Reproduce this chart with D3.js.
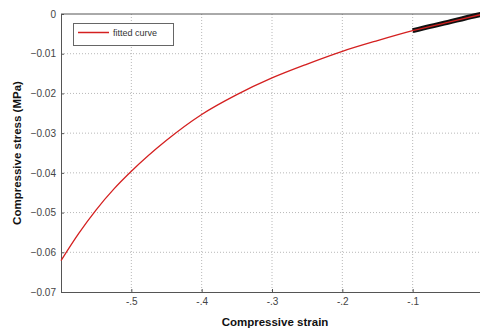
<!DOCTYPE html>
<html><head><meta charset="utf-8">
<script src="https://cdn.jsdelivr.net/npm/d3@7"></script>
<style>body{margin:0;background:#fff}svg{display:block}</style>
</head><body>
<svg id="c" width="480" height="332"></svg>
<script>
const strainFit = [-0.60,-0.575,-0.55,-0.525,-0.50,-0.45,-0.40,-0.35,-0.30,-0.25,-0.20,-0.15,-0.10,-0.05,0.00];
const stressFit = [-0.0621,-0.0553,-0.0493,-0.0441,-0.0396,-0.0318,-0.0253,-0.0203,-0.0161,-0.0126,-0.0094,-0.0067,-0.0042,-0.0021,0.0000];
const strainData = [-0.10,-0.075,-0.05,-0.025,0.00];
const stressData = [-0.0042,-0.0031,-0.0021,-0.0010,0.0000];
const xTicks = [-0.5,-0.4,-0.3,-0.2,-0.1];
const yTicks = [0,-0.01,-0.02,-0.03,-0.04,-0.05,-0.06,-0.07];
const legendLabel = "fitted curve";

const svg = d3.select("#c");
const L=61, R=483, T=14, B=292;
const x = d3.scaleLinear().domain([-0.6,0]).range([L,R]);
const y = d3.scaleLinear().domain([-0.07,0]).range([B,T]);
const font = "Arial, 'Liberation Sans', sans-serif";

// grid
svg.append("g").selectAll("line").data(xTicks).join("line")
  .attr("x1",d=>x(d)).attr("x2",d=>x(d)).attr("y1",T).attr("y2",B)
  .attr("stroke","#b8b8b8").attr("stroke-dasharray","1,2");
svg.append("g").selectAll("line").data(yTicks.filter(d=>d<0&&d>-0.07)).join("line")
  .attr("y1",d=>y(d)).attr("y2",d=>y(d)).attr("x1",L).attr("x2",R)
  .attr("stroke","#b8b8b8").attr("stroke-dasharray","1,2");

// axes
const xa = d3.axisBottom(x).tickValues(xTicks).tickSize(-3).tickPadding(6);
const gx = svg.append("g").attr("transform",`translate(0,${B})`).call(xa);
gx.select(".domain").attr("stroke","#555");
gx.selectAll(".tick line").attr("stroke","#555");
gx.selectAll("text").attr("font-family",font).attr("font-size",10).attr("fill","#444")
  .text(d=>"-"+d3.format(".1f")(-d).replace(/^0/,""));
const ya = d3.axisLeft(y).tickValues(yTicks).tickSize(-3).tickPadding(5).tickFormat(d=>d===0?"0":d3.format(".2f")(d));
const gy = svg.append("g").attr("transform",`translate(${L},0)`).call(ya);
gy.select(".domain").attr("stroke","#555");
gy.selectAll(".tick line").attr("stroke","#555");
gy.selectAll("text").attr("font-family",font).attr("font-size",10).attr("fill","#444");
// top border
svg.append("line").attr("x1",L).attr("x2",R).attr("y1",T).attr("y2",T).attr("stroke","#555");

// data
const line = d3.line().x(d=>x(d[0])).y(d=>y(d[1])).curve(d3.curveMonotoneX);
svg.append("path").datum(d3.zip(strainData,stressData)).attr("d",line)
  .attr("fill","none").attr("stroke","#111").attr("stroke-width",5);
svg.append("path").datum(d3.zip(strainFit,stressFit)).attr("d",line)
  .attr("fill","none").attr("stroke","#d42020").attr("stroke-width",1.3);

// legend
svg.append("rect").attr("x",73.5).attr("y",23.5).attr("width",100).attr("height",22)
  .attr("fill","#fff").attr("stroke","#666");
svg.append("line").attr("x1",78).attr("x2",109).attr("y1",32.5).attr("y2",32.5)
  .attr("stroke","#d42020").attr("stroke-width",1.5);
svg.append("text").attr("x",113).attr("y",35.5).attr("font-family",font).attr("font-size",9)
  .attr("fill","#333").text(legendLabel);

// labels
svg.append("text").attr("x",275).attr("y",326).attr("text-anchor","middle")
  .attr("font-family",font).attr("font-weight","bold").attr("font-size",11.5).attr("fill","#111")
  .text("Compressive strain");
svg.append("text").attr("transform","translate(21,153) rotate(-90)").attr("text-anchor","middle")
  .attr("font-family",font).attr("font-weight","bold").attr("font-size",11.5).attr("fill","#111")
  .text("Compressive stress (MPa)");
</script>
</body></html>
